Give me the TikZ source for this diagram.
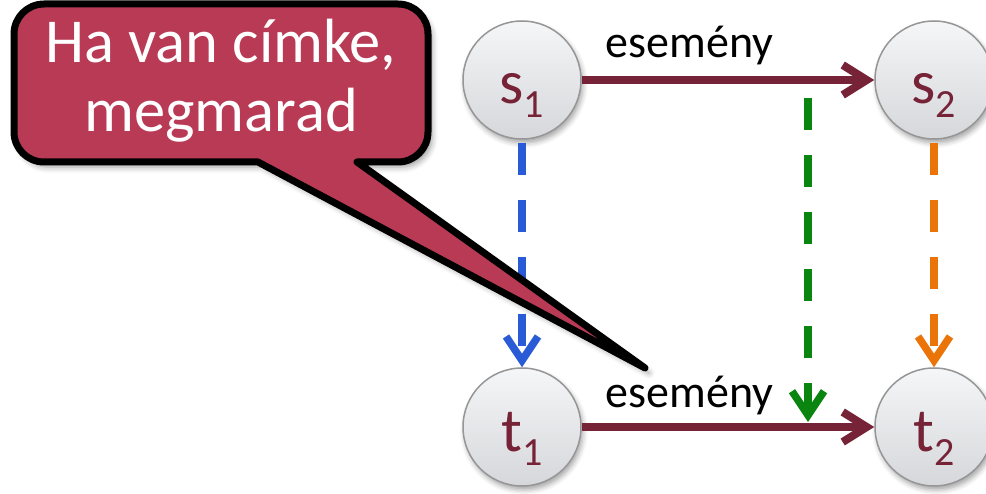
\documentclass[tikz,border=0pt]{standalone}
\usepackage{fontspec}
\setmainfont{Carlito}
\usetikzlibrary{arrows.meta,shadows.blur}
\definecolor{maroon}{RGB}{118,35,56}
\definecolor{callred}{RGB}{185,58,85}
\definecolor{ablue}{RGB}{42,91,214}
\definecolor{aorange}{RGB}{234,116,8}
\definecolor{agreen}{RGB}{10,134,16}
\definecolor{cborder}{RGB}{150,150,150}
\definecolor{ctop}{RGB}{245,246,248}
\definecolor{cbot}{RGB}{214,215,218}
\newcommand\mysub[1]{\raisebox{-14pt}{\fontsize{40}{40}\selectfont #1}}
\begin{document}
\begin{tikzpicture}[x=1pt,y=1pt,
  state/.style={circle, minimum size=118pt, inner sep=0pt, draw=cborder, line width=1.5pt,
    top color=ctop, bottom color=cbot, text=maroon, font=\fontsize{62}{62}\selectfont,
    text height=48pt, text depth=0pt,
    blur shadow={shadow xshift=2pt, shadow yshift=-4pt, shadow blur radius=5pt, shadow opacity=35}},
  evt/.style={draw=maroon, line width=8pt, -{Straight Barb[length=24pt,width=30pt]}},
  dasharrow/.style={line width=7.5pt, dash pattern=on 32pt off 25pt, shorten <=3pt,
    -{Straight Barb[length=24pt,width=32pt]}},
  lbl/.style={inner sep=0pt, anchor=base west, text=black, font=\fontsize{46}{46}\selectfont},
  callout/.style={fill=callred, draw=black, line width=7pt, line join=round,
    blur shadow={shadow xshift=4pt, shadow yshift=-5pt, shadow blur radius=6pt, shadow opacity=40}},
  calltext/.style={inner sep=0pt, anchor=base, text=white, font=\fontsize{62.5}{69}\selectfont}
]
\useasboundingbox (0,0) rectangle (986,-494);
\clip (0,0) rectangle (986,-494);

\node[state] (s1) at (522,-80) {s\mysub{1}};
\node[state] (s2) at (934,-80) {s\mysub{2}};
\node[state] (t1) at (522,-427) {t\mysub{1}};
\node[state] (t2) at (934,-427) {t\mysub{2}};

\coordinate (g1) at (808,-98);
\coordinate (g2) at (808,-422);

\draw[evt] (s1) -- node[lbl, pos=0.068, yshift=22pt] {esemény} (s2);
\draw[evt] (t1) -- node[lbl, pos=0.068, yshift=19pt] {esemény} (t2);

\draw[dasharrow, draw=ablue] (s1) -- (t1);
\draw[dasharrow, draw=aorange] (s2) -- (t2);
\draw[dasharrow, draw=agreen, shorten <=0pt] (g1) -- (g2);

\draw[callout] (258,-162) -- (645,-368) -- (357,-162) -- (398,-162) arc(-90:0:30)
  -- (428,-34) arc(0:90:30) -- (44,-4) arc(90:180:30) -- (14,-132) arc(180:270:30) -- cycle;
\node[calltext] (c1) at (221,-63) {Ha van címke,};
\node[calltext] (c2) at (221,-132) {megmarad};
\end{tikzpicture}
\end{document}
